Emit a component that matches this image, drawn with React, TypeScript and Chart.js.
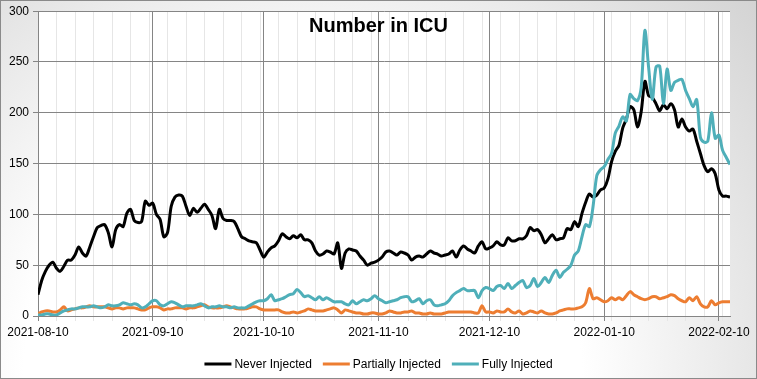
import React, { useEffect, useRef } from "react";
import { Chart, registerables } from "chart.js";

Chart.register(...registerables);

const TITLE = "Number in ICU";
const START_DATE = "2021-08-10";
const X_TICK_LABELS = ["2021-08-10", "2021-09-10", "2021-10-10", "2021-11-10", "2021-12-10", "2022-01-10", "2022-02-10"];
const Y_MIN = 0;
const Y_MAX = 300;
const Y_STEP = 50;
const MINOR_STEP_DAYS = 5;
const SERIES_NAMES = ["Never Injected", "Partially Injected", "Fully Injected"];
const SERIES_COLORS = ["#000000", "#ED7D31", "#4FAFB9"];

// Daily values from 2021-08-10 onwards
const NEVER_INJECTED = [
  21, 35, 44, 50, 53, 47, 44, 49, 55, 55,
  60, 68, 62, 59, 68, 78, 87, 89, 90, 82,
  68, 85, 90, 88, 101, 105, 94, 92, 93, 113,
  109, 111, 100, 95, 78, 82, 108, 117, 119, 118,
  108, 99, 106, 102, 106, 110, 105, 99, 86, 105,
  96, 94, 94, 93, 86, 78, 76, 74, 73, 72,
  65, 58, 63, 67, 69, 74, 81, 78, 76, 79,
  77, 80, 75, 75, 72, 64, 60, 61, 64, 63,
  61, 72, 47, 62, 66, 65, 64, 59, 55, 50,
  52, 53, 55, 58, 63, 64, 62, 60, 63, 62,
  60, 55, 58, 59, 58, 61, 64, 62, 61, 59,
  60, 61, 64, 58, 65, 69, 66, 64, 62, 69,
  73, 66, 67, 69, 73, 70, 70, 77, 74, 74,
  76, 76, 79, 87, 84, 85, 80, 72, 76, 80,
  75, 76, 77, 86, 85, 93, 88, 101, 112, 120,
  117, 119, 124, 126, 135, 152, 162, 168, 185, 194,
  206, 203, 186, 201, 231, 217, 215, 209, 202, 208,
  204, 209, 203, 186, 194, 186, 182, 184, 172, 160,
  148, 142, 145, 140, 124, 118, 118, 117,
];

const PARTIALLY_INJECTED = [
  2, 4, 5, 5, 4, 4, 6, 9, 5, 6,
  7, 8, 8, 9, 10, 9, 9, 9, 9, 8,
  7, 8, 8, 7, 8, 8, 8, 7, 6, 6,
  8, 9, 9, 8, 6, 7, 7, 8, 8, 8,
  7, 8, 8, 9, 10, 11, 9, 8, 8, 8,
  9, 10, 9, 8, 7, 7, 7, 8, 9, 9,
  7, 6, 6, 6, 6, 6, 4, 3, 3, 4,
  3, 4, 5, 7, 6, 5, 5, 5, 6, 7,
  8, 6, 3, 6, 5, 4, 3, 3, 2, 2,
  3, 3, 2, 2, 3, 5, 4, 3, 3, 4,
  4, 5, 3, 3, 2, 2, 3, 2, 2, 2,
  3, 4, 4, 4, 4, 4, 4, 4, 3, 3,
  10, 4, 4, 3, 5, 4, 4, 7, 4, 3,
  5, 2, 3, 5, 4, 3, 5, 3, 2, 2,
  3, 5, 6, 7, 7, 7, 8, 9, 13, 27,
  17, 18, 16, 14, 15, 18, 16, 18, 16, 20,
  24, 21, 19, 17, 16, 17, 19, 19, 17, 18,
  19, 21, 20, 17, 15, 14, 18, 15, 19, 12,
  9, 9, 15, 11, 13, 14, 14, 14,
];

const FULLY_INJECTED = [
  1, 1, 2, 2, 1, 1, 3, 5, 6, 7,
  7, 8, 9, 9, 9, 10, 9, 8, 9, 11,
  10, 10, 11, 13, 12, 11, 12, 11, 8, 9,
  12, 15, 15, 11, 10, 12, 14, 13, 11, 9,
  10, 10, 10, 11, 12, 10, 8, 9, 9, 10,
  9, 9, 8, 9, 8, 8, 8, 10, 12, 14,
  15, 15, 17, 21, 15, 16, 17, 19, 21, 22,
  26, 23, 19, 20, 18, 16, 19, 16, 18, 16,
  14, 14, 14, 12, 11, 15, 12, 14, 16, 15,
  17, 20, 17, 15, 13, 14, 15, 16, 18, 19,
  19, 14, 15, 17, 12, 15, 16, 11, 10, 11,
  12, 15, 20, 23, 25, 27, 25, 25, 25, 18,
  25, 28, 27, 25, 29, 30, 27, 32, 27, 30,
  33, 35, 28, 30, 37, 29, 33, 38, 33, 40,
  45, 38, 43, 46, 50, 60, 64, 78, 90, 88,
  108, 138, 144, 147, 154, 160, 180, 187, 196, 192,
  218, 214, 212, 225, 281, 245, 213, 245, 246, 209,
  243, 222, 230, 232, 233, 222, 214, 206, 213, 176,
  171, 172, 200, 175, 178, 163, 156, 149,
];

const SERIES_VALUES = [NEVER_INJECTED, PARTIALLY_INJECTED, FULLY_INJECTED];

function dayIndex(s: string): number {
  return Math.round((Date.parse(s + "T00:00:00Z") - Date.parse(START_DATE + "T00:00:00Z")) / 86400000);
}

const FONT = "'Liberation Sans', Arial, sans-serif";

export default function App() {
  const ref = useRef<HTMLCanvasElement | null>(null);

  useEffect(() => {
    document.body.style.margin = "0";
    const canvas = ref.current;
    if (!canvas) return;
    const n = NEVER_INJECTED.length;
    const majorDays = X_TICK_LABELS.map(dayIndex);
    const labelByDay = new Map<number, string>();
    majorDays.forEach((d, i) => labelByDay.set(d, X_TICK_LABELS[i]));

    const bgPlugin = {
      id: "bg",
      beforeDraw(chart: any) {
        const { ctx, width, height, chartArea } = chart;
        ctx.save();
        const g = ctx.createRadialGradient(width * 0.4, height, 0, width * 0.4, height, 620);
        g.addColorStop(0, "#ffffff");
        g.addColorStop(0.45, "#ffffff");
        g.addColorStop(1, "#cfcfcf");
        ctx.fillStyle = g;
        ctx.fillRect(0, 0, width, height);
        ctx.fillStyle = "#ffffff";
        ctx.fillRect(chartArea.left, chartArea.top, chartArea.right - chartArea.left, chartArea.bottom - chartArea.top);
        ctx.restore();
      },
      afterDraw(chart: any) {
        const { ctx, width, height } = chart;
        ctx.save();
        // title
        ctx.fillStyle = "#000";
        ctx.font = `bold 20px ${FONT}`;
        ctx.textAlign = "center";
        ctx.textBaseline = "middle";
        ctx.fillText(TITLE, width / 2, 26);
        // legend
        ctx.font = `12px ${FONT}`;
        const lineLen = 27;
        const gap = 3;
        const itemGap = 11;
        const widths = SERIES_NAMES.map((s) => ctx.measureText(s).width);
        const total = widths.reduce((a, w) => a + lineLen + gap + w, 0) + itemGap * (SERIES_NAMES.length - 1);
        let x = (width - total) / 2;
        const y = 364;
        ctx.textAlign = "left";
        SERIES_NAMES.forEach((name, i) => {
          ctx.strokeStyle = SERIES_COLORS[i];
          ctx.lineWidth = 3;
          ctx.beginPath();
          ctx.moveTo(x, y);
          ctx.lineTo(x + lineLen, y);
          ctx.stroke();
          ctx.fillStyle = "#000";
          ctx.fillText(name, x + lineLen + gap, y + 0.5);
          x += lineLen + gap + widths[i] + itemGap;
        });
        // outer border
        ctx.strokeStyle = "#8a8a8a";
        ctx.lineWidth = 1;
        ctx.strokeRect(0.5, 0.5, width - 1, height - 1);
        ctx.restore();
      },
    };

    const chart = new Chart(canvas, {
      type: "line",
      data: {
        datasets: SERIES_NAMES.map((name, i) => ({
          label: name,
          data: SERIES_VALUES[i].map((v, d) => ({ x: d, y: v })),
          borderColor: SERIES_COLORS[i],
          backgroundColor: SERIES_COLORS[i],
          borderWidth: 3,
          pointRadius: 0,
          tension: 0.3,
          fill: false,
          order: SERIES_NAMES.length - i,
        })),
      },
      options: {
        responsive: false,
        animation: false,
        events: [],
        layout: { padding: { left: 0, right: 27, top: 8, bottom: 0 } },
        plugins: {
          legend: { display: false },
          title: { display: false },
          tooltip: { enabled: false },
        },
        scales: {
          x: {
            type: "linear",
            min: 0,
            max: n - 1,
            afterBuildTicks: (scale: any) => {
              const t: any[] = [];
              for (let d = 0; d <= n - 1; d += MINOR_STEP_DAYS) {
                if (!labelByDay.has(d)) t.push({ value: d });
              }
              majorDays.forEach((d) => t.push({ value: d, major: true }));
              t.sort((a, b) => a.value - b.value);
              scale.ticks = t;
            },
            afterFit: (scale: any) => {
              scale.height = 63;
            },
            ticks: {
              autoSkip: false,
              maxRotation: 0,
              padding: 4,
              color: "#000",
              font: { family: FONT, size: 12 },
              callback: (v: any) => labelByDay.get(Number(v)) ?? "",
            },
            grid: {
              color: (ctx: any) => (ctx.tick && labelByDay.has(ctx.tick.value) ? "#858585" : "#e6e6e6"),
              tickLength: 5,
            },
            border: { color: "#858585" },
          },
          y: {
            min: Y_MIN,
            max: Y_MAX,
            afterFit: (scale: any) => {
              scale.width = 38;
            },
            ticks: {
              stepSize: Y_STEP,
              padding: 4,
              color: "#000",
              font: { family: FONT, size: 12 },
            },
            grid: { color: "#858585", tickLength: 5 },
            border: { color: "#858585" },
          },
        },
      },
      plugins: [bgPlugin],
    } as any);

    return () => chart.destroy();
  }, []);

  return <canvas ref={ref} width={757} height={379} style={{ display: "block", width: 757, height: 379 }} />;
}
